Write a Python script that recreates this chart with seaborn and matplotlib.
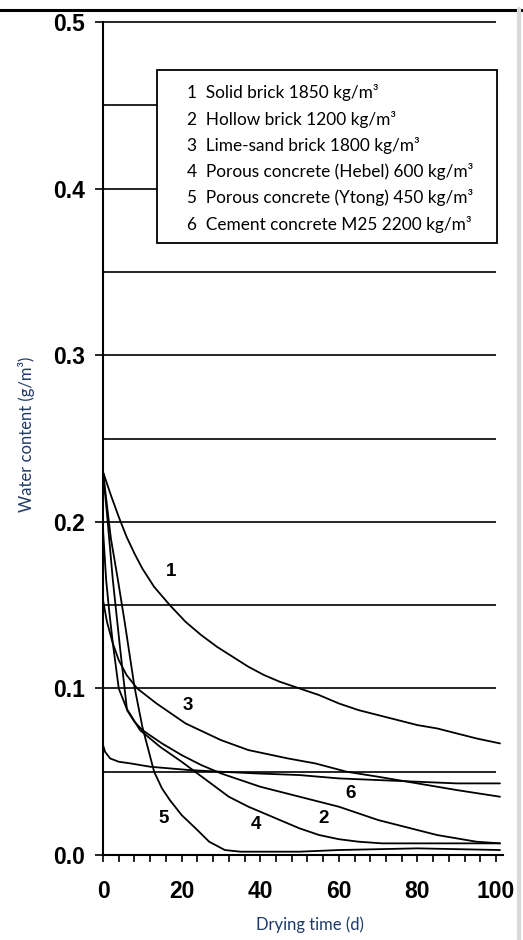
import numpy as np
import pandas as pd
import matplotlib
matplotlib.use("Agg")
import matplotlib.pyplot as plt
from matplotlib.patches import Rectangle
from matplotlib.lines import Line2D
import seaborn as sns

# --- data (drying time in days, water content) ---
t1 = [0, 2, 4, 6, 8, 10, 13, 17, 21, 25, 29, 33, 37, 41, 45, 50, 55, 60, 65, 70,
      75, 80, 85, 90, 95, 101]
w1 = [0.230, 0.216, 0.203, 0.191, 0.181, 0.172, 0.161, 0.150, 0.140, 0.132, 0.125,
      0.119, 0.113, 0.108, 0.104, 0.100, 0.096, 0.091, 0.087, 0.084, 0.081, 0.078,
      0.076, 0.073, 0.070, 0.067]

t2 = [0, 1, 2.5, 4.3, 6.1, 8, 10, 15, 20, 25, 30, 35, 40, 45, 50, 55, 60, 65, 70,
      75, 80, 85, 90, 95, 101]
w2 = [0.230, 0.205, 0.165, 0.125, 0.087, 0.080, 0.075, 0.067, 0.060, 0.054, 0.049,
      0.045, 0.041, 0.038, 0.035, 0.032, 0.029, 0.025, 0.021, 0.018, 0.015, 0.012,
      0.010, 0.008, 0.007]

t3 = [0, 1, 2.5, 4, 6, 8.7, 13.6, 21, 30, 37, 47, 54, 62, 70, 80, 90, 101]
w3 = [0.153, 0.140, 0.127, 0.117, 0.108, 0.100, 0.091, 0.079, 0.069, 0.063, 0.058,
      0.055, 0.050, 0.047, 0.043, 0.039, 0.035]

t4 = [0, 0.4, 0.8, 1.5, 2.5, 4, 6, 9.4, 14.5, 20, 24, 28, 32, 37, 42, 46, 50, 55,
      60, 65, 71, 101]
w4 = [0.195, 0.180, 0.165, 0.148, 0.127, 0.100, 0.088, 0.075, 0.065, 0.056, 0.049,
      0.042, 0.035, 0.029, 0.024, 0.020, 0.016, 0.012, 0.0095, 0.008, 0.007, 0.007]

t5 = [0, 2, 3.8, 5.5, 8, 10, 13, 15, 17, 20, 24, 27, 31, 35, 50, 60, 80, 101]
w5 = [0.230, 0.190, 0.165, 0.140, 0.101, 0.077, 0.050, 0.040, 0.033, 0.024, 0.015,
      0.008, 0.003, 0.002, 0.002, 0.003, 0.004, 0.003]

t6 = [0, 0.5, 1.8, 4, 7, 12, 22, 30, 39, 50, 60, 70, 80, 90, 101]
w6 = [0.066, 0.062, 0.058, 0.056, 0.055, 0.053, 0.051, 0.050, 0.049, 0.048, 0.046,
      0.045, 0.044, 0.043, 0.043]

materials = ["1", "2", "3", "4", "5", "6"]
legend_labels = [
    "1  Solid brick 1850 kg/m³",
    "2  Hollow brick 1200 kg/m³",
    "3  Lime-sand brick 1800 kg/m³",
    "4  Porous concrete (Hebel) 600 kg/m³",
    "5  Porous concrete (Ytong) 450 kg/m³",
    "6  Cement concrete M25 2200 kg/m³",
]
# curve number labels: (x, y) in data units
label_x = [17.3, 56.2, 21.6, 39.0, 15.5, 63.1]
label_y = [0.170, 0.022, 0.0895, 0.0186, 0.022, 0.037]

grid_levels = [0.05, 0.10, 0.15, 0.20, 0.25, 0.30, 0.35, 0.40, 0.45, 0.50]

frames = []
for m, t, w in zip(materials, [t1, t2, t3, t4, t5, t6], [w1, w2, w3, w4, w5, w6]):
    frames.append(pd.DataFrame({"time": t, "water": w, "material": m}))
df = pd.concat(frames, ignore_index=True)

sns.set_style("white")
plt.rcParams["text.color"] = "black"
plt.rcParams["xtick.color"] = "black"
plt.rcParams["ytick.color"] = "black"
narrow = ["Lato", "DejaVu Sans"]
bold_font = ["Liberation Sans", "DejaVu Sans"]
navy = "#1f3a68"

fig = plt.figure(figsize=(5.23, 9.40), dpi=100)
ax = fig.add_axes([0.197, 0.0904, 0.765, 0.886])

# horizontal rules
ax.hlines(grid_levels, 0, 100, color="black", lw=1.2, zorder=1, clip_on=False)

sns.lineplot(data=df, x="time", y="water", hue="material", units="material",
             estimator=None, sort=False, palette=["black"] * 6, lw=1.3,
             legend=False, ax=ax, zorder=2)

ax.set_xlim(0, 101.8)
ax.set_ylim(0, 0.5)

for s in ["top", "right"]:
    ax.spines[s].set_visible(False)
for s in ["left", "bottom"]:
    ax.spines[s].set_linewidth(1.5)
    ax.spines[s].set_color("black")

ax.set_xticks([0, 20, 40, 60, 80, 100])
ax.set_xticks(np.arange(0, 101, 4), minor=True)
ax.set_yticks([0.0, 0.1, 0.2, 0.3, 0.4, 0.5])
ax.set_yticklabels(["0.0", "0.1", "0.2", "0.3", "0.4", "0.5"])
ax.tick_params(axis="x", which="both", direction="out", length=5, width=1.2,
               bottom=True, pad=13)
ax.tick_params(axis="y", which="major", direction="out", length=6, width=1.2,
               left=True, pad=7)
for lab in ax.get_xticklabels() + ax.get_yticklabels():
    lab.set_family(bold_font)
    lab.set_fontweight("bold")
    lab.set_fontsize(16.5)

ax.set_xlabel("Drying time (d)", family=narrow, fontsize=12, color=navy)
ax.set_ylabel("Water content (g/m³)", family=narrow, fontsize=12, color=navy)
ax.xaxis.set_label_coords(0.517, -0.074)
ax.yaxis.set_label_coords(-0.17, 0.505)

# curve numbers
for m, lx, ly in zip(materials, label_x, label_y):
    ax.text(lx, ly, m, ha="center", va="center", family=bold_font,
            fontweight="bold", fontsize=13.5, zorder=4)

# legend box
ax.add_patch(Rectangle((0.135, 0.735), 0.85, 0.207, transform=ax.transAxes,
                       facecolor="white", edgecolor="black", lw=1.3, zorder=3))
leg_texts = []
for i, txt in enumerate(legend_labels):
    leg_texts.append(ax.text(0.21, 0.915 - i * 0.0315, txt, transform=ax.transAxes,
                             ha="left", va="center", family=narrow, fontsize=12.5,
                             zorder=4))

# size the legend text so the longest line fills most of the box
renderer = fig.canvas.get_renderer()
widest = max(t.get_window_extent(renderer).width for t in leg_texts)
size = 12.5 * 288.0 / widest
for t in leg_texts:
    t.set_fontsize(size)

# scan frame: top rule and right edge
fig.add_artist(Line2D([0, 1], [0.9895, 0.9895], color="black", lw=2.2))
fig.add_artist(Line2D([0.993, 0.993], [0, 0.99], color="#d8d8d8", lw=3))

fig.savefig("out.png", dpi=100)
